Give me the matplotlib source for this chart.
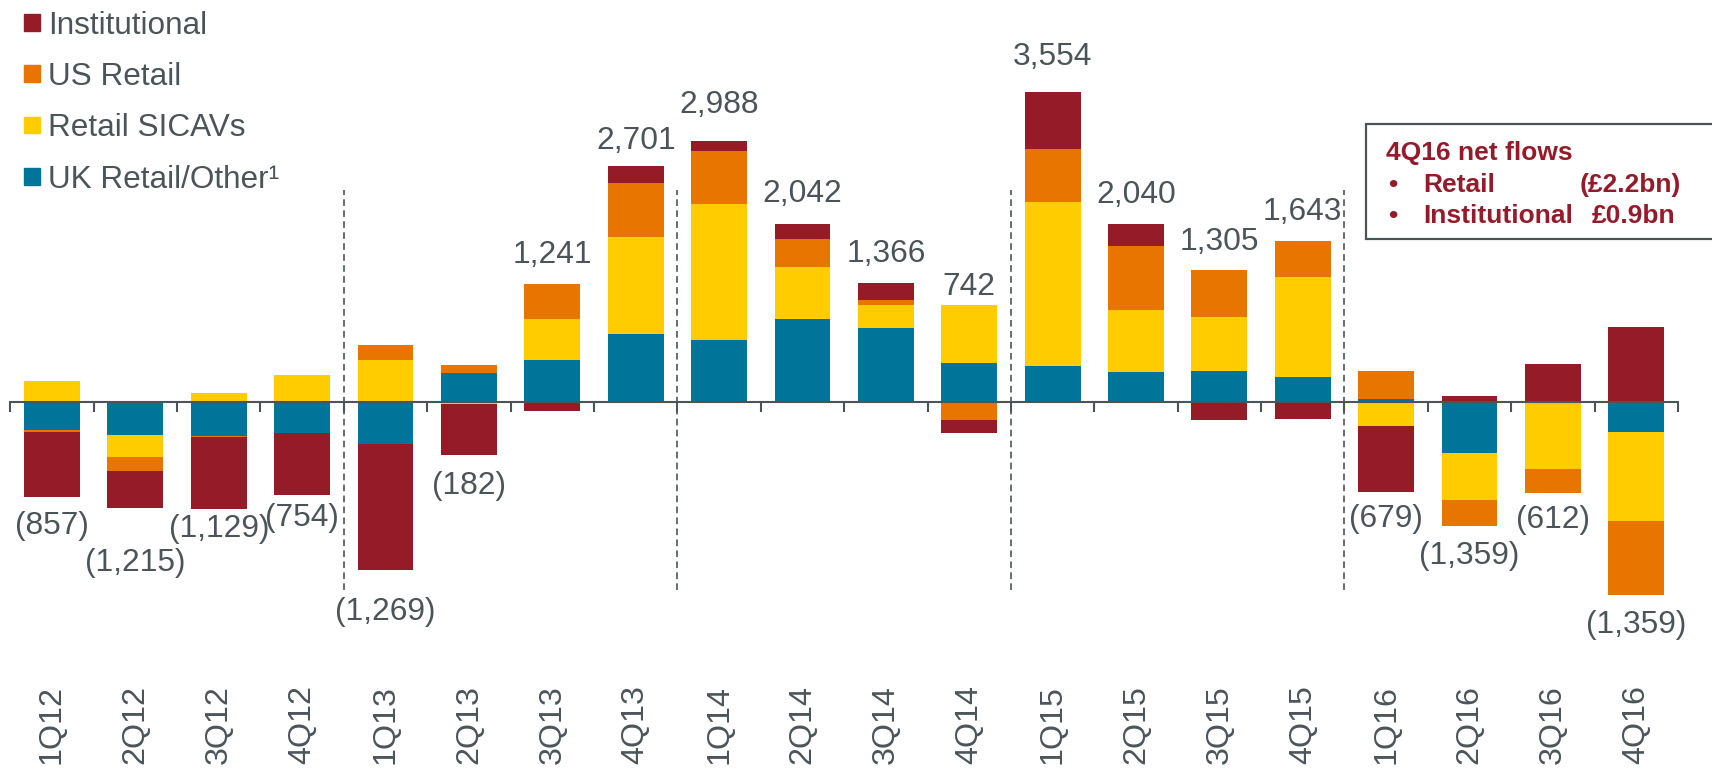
import matplotlib
matplotlib.use("Agg")
import matplotlib.pyplot as plt
from matplotlib.patches import Rectangle
import numpy as np

plt.rcParams['font.family'] = ['Liberation Sans', 'DejaVu Sans']
plt.rcParams['lines.scale_dashes'] = False

quarters = ["1Q12", "2Q12", "3Q12", "4Q12", "1Q13", "2Q13", "3Q13", "4Q13",
            "1Q14", "2Q14", "3Q14", "4Q14", "1Q15", "2Q15", "3Q15", "4Q15",
            "1Q16", "2Q16", "3Q16", "4Q16"]

uk_retail = [-330, -380, -390, -360, -480, 330, 474, 776,
             707, 950, 849, 442, 413, 340, 352, 287,
             35, -590, 0, -350]
retail_sicavs = [240, -250, 100, 310, 475, -22, 473, 1116,
                 1556, 596, 260, 663, 1877, 711, 620, 1145,
                 -274, -540, -768, -1015]
us_retail = [-20, -163, -14, 0, 180, 95, 401, 612,
             612, 318, 57, -210, 608, 734, 540, 406,
             320, -299, -274, -854]
institutional = [-747, -422, -825, -704, -1444, -585, -107, 197,
                 113, 178, 200, -153, 656, 255, -207, -195,
                 -760, 70, 430, 860]

totals = [-857, -1215, -1129, -754, -1269, -182, 1241, 2701,
          2988, 2042, 1366, 742, 3554, 2040, 1305, 1643,
          -679, -1359, -612, -1359]

series_names = ["UK Retail/Other\u00b9", "Retail SICAVs", "US Retail", "Institutional"]
series_colors = ["#00759A", "#FFCC00", "#E87500", "#951B29"]

# label vertical offsets (pixels, from bar end to label centre)
label_offsets = [29, 55, 20, 23, 42, 31, 29, 25,
                 36, 30, 29, 18, 35, 29, 28, 29,
                 27, 30, 27, 30]

divider_positions = [3.5, 7.5, 11.5, 15.5]

text_gray = "#4B5559"
box_red = "#961B2A"

W, H = 1712, 768
fig = plt.figure(figsize=(W / 100, H / 100), dpi=100)

px_per_unit = 0.08723
zero_px = 401.7
ytop = zero_px / px_per_unit
ybot = -(H - zero_px) / px_per_unit

left_px, right_px = 10.3, 1678.0
ax = fig.add_axes([left_px / W, 0, (right_px - left_px) / W, 1])
ax.set_xlim(-0.5, len(quarters) - 0.5)
ax.set_ylim(ybot, ytop)

x = np.arange(len(quarters))
data = [uk_retail, retail_sicavs, us_retail, institutional]
pos_base = np.zeros(len(quarters))
neg_base = np.zeros(len(quarters))
width = 0.67
for vals, col in zip(data, series_colors):
    v = np.array(vals, dtype=float)
    pos = np.where(v > 0, v, 0)
    neg = np.where(v < 0, v, 0)
    ax.bar(x, pos, width, bottom=pos_base, color=col, linewidth=0)
    ax.bar(x, neg, width, bottom=neg_base, color=col, linewidth=0)
    pos_base += pos
    neg_base += neg

# total labels
for i, t in enumerate(totals):
    if t >= 0:
        txt = f"{t:,}"
        ax.annotate(txt, (x[i], pos_base[i]), xytext=(0, label_offsets[i]),
                    textcoords='offset pixels', ha='center', va='center',
                    fontsize=22.9, color=text_gray)
    else:
        txt = f"({-t:,})"
        ax.annotate(txt, (x[i], neg_base[i]), xytext=(0, -label_offsets[i]),
                    textcoords='offset pixels', ha='center', va='center',
                    fontsize=22.9, color=text_gray)

# dividers
ax.vlines(divider_positions, -2160, 2428, colors=text_gray, linewidth=1.2,
          linestyles=[(0, (4.8, 3.1))])

# axes styling
for s in ['top', 'right', 'left']:
    ax.spines[s].set_visible(False)
ax.spines['bottom'].set_position(('data', 0))
ax.spines['bottom'].set_color(text_gray)
ax.spines['bottom'].set_linewidth(1.5)
ax.set_yticks([])
ax.set_xticks(x)
ax.set_xticklabels(quarters)
ax.set_xticks(np.arange(-0.5, len(quarters)), minor=True)
ax.tick_params(axis='x', which='major', length=0, pad=204, labelrotation=90,
               labelsize=23.2, labelcolor=text_gray)
ax.tick_params(axis='x', which='minor', length=7, width=1.5, color=text_gray,
               direction='out')

# legend (manual)
legend_order = [3, 2, 1, 0]
row_centers = [22.5, 73.5, 125, 176.5]
for r, idx in zip(row_centers, legend_order):
    fig.patches.append(Rectangle((24 / W, 1 - (r + 8) / H), 16 / W, 16 / H,
                                 transform=fig.transFigure, color=series_colors[idx]))
    fig.text(48 / W, 1 - (r + 11.3) / H, series_names[idx], fontsize=22.7,
             color=text_gray, ha='left', va='baseline')

# annotation box
fig.patches.append(Rectangle((1366 / W, 1 - 239 / H), (1730 - 1366) / W, (239 - 124) / H,
                             transform=fig.transFigure, facecolor='white',
                             edgecolor=text_gray, linewidth=1.6))
fs = 19
fig.text(1386 / W, 1 - 160 / H, "4Q16 net flows", fontsize=fs, fontweight='bold',
         color=box_red, ha='left', va='baseline')
fig.text(1388 / W, 1 - 192 / H, "\u2022", fontsize=fs, fontweight='bold',
         color=box_red, ha='left', va='baseline')
fig.text(1423 / W, 1 - 192 / H, "Retail", fontsize=fs, fontweight='bold',
         color=box_red, ha='left', va='baseline')
fig.text(1580 / W, 1 - 192 / H, "(\u00a32.2bn)", fontsize=fs, fontweight='bold',
         color=box_red, ha='left', va='baseline')
fig.text(1388 / W, 1 - 223 / H, "\u2022", fontsize=fs, fontweight='bold',
         color=box_red, ha='left', va='baseline')
fig.text(1423 / W, 1 - 223 / H, "Institutional", fontsize=fs, fontweight='bold',
         color=box_red, ha='left', va='baseline')
fig.text(1592 / W, 1 - 223 / H, "\u00a30.9bn", fontsize=fs, fontweight='bold',
         color=box_red, ha='left', va='baseline')

fig.savefig("out.png", dpi=100)
